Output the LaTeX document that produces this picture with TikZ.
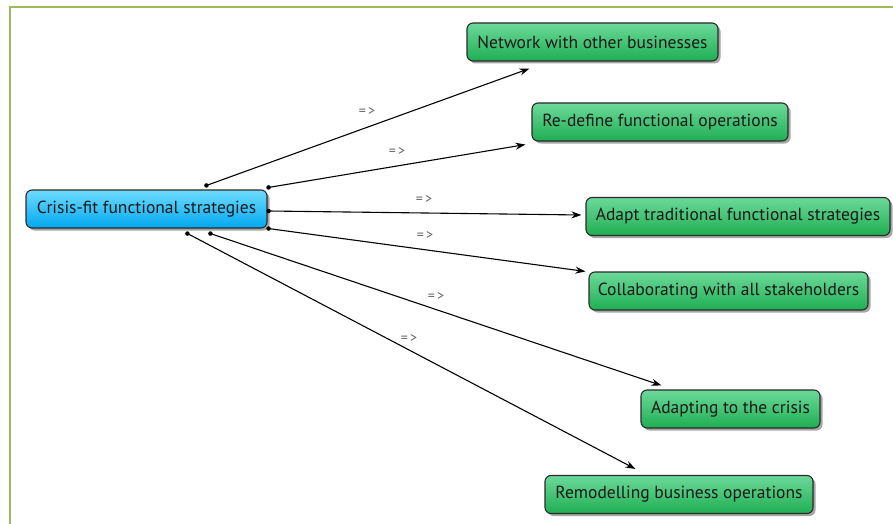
\documentclass[tikz,border=0pt]{standalone}
\usepackage{fontspec}
\setmainfont{PT Sans}
\usetikzlibrary{shadows,calc,arrows.meta}
\definecolor{frameg}{HTML}{9BBB59}
\definecolor{gtop}{HTML}{6CD99A}
\definecolor{gbot}{HTML}{1FAE52}
\definecolor{btop}{HTML}{6FDBFF}
\definecolor{bbot}{HTML}{00A8F0}
\definecolor{edgec}{HTML}{2A2A2A}
\tikzset{
  box/.style={draw=edgec, line width=1.1pt, rounded corners=6pt, minimum height=38pt,
    inner sep=0pt, font=\fontsize{17.5}{20}\selectfont, text=black!90,
    drop shadow={shadow xshift=2.5pt, shadow yshift=-2.5pt, fill=black, opacity=0.35}},
  gbox/.style={box, top color=gtop, bottom color=gbot},
  cbox/.style={box, top color=btop, bottom color=bbot},
  link/.style={line width=1.1pt, black, -{Stealth[length=10pt,width=7pt]}},
  dot/.style={circle, fill=black, inner sep=0pt, minimum size=4.5pt},
  lab/.style={font=\fontsize{14}{16}\selectfont, text=black!60, inner sep=0pt}
}
\begin{document}
\begin{tikzpicture}[x=1pt,y=-1pt]
\useasboundingbox (0,0) rectangle (893,524);
\fill[white] (0,0) rectangle (893,524);
\draw[frameg, line width=2pt] (10,524) -- (10,7.5) -- (893,7.5);

\node[cbox, minimum width=241pt] (c) at (146.5,209) {Crisis-fit functional strategies};
\node[gbox, minimum width=251pt] (n1) at (592.5,42) {Network with other businesses};
\node[gbox, minimum width=256pt] (n2) at (660,122) {Re-define functional operations};
\node[gbox, minimum width=304pt] (n3) at (738,216.5) {Adapt traditional functional strategies};
\node[gbox, minimum width=279pt] (n4) at (728.5,291) {Collaborating with all stakeholders};
\node[gbox, minimum width=179pt] (n5) at (730.5,409) {Adapting to the crisis};
\node[gbox, minimum width=268pt] (n6) at (679,494.5) {Remodelling business operations};

\coordinate (s1) at ($(c.north west)+(181,-4)$);
\coordinate (s2) at ($(c.north east)+(1,-2)$);
\coordinate (s3) at ($(c.east)+(1,2)$);
\coordinate (s4) at ($(c.south east)+(1,0)$);
\coordinate (s5) at ($(c.south west)+(185,5)$);
\coordinate (s6) at ($(c.south west)+(162,5)$);

\coordinate (e1) at ($(n1.south west)+(63,7)$);
\coordinate (e2) at ($(n2.south west)+(-6,3)$);
\coordinate (e3) at ($(n3.west)+(-4,-1.5)$);
\coordinate (e4) at ($(n4.north west)+(-3,0)$);
\coordinate (e5) at ($(n5.north west)+(21,-4)$);
\coordinate (e6) at ($(n6.north west)+(91,-6)$);

\foreach \i in {1,...,6}{
  \draw[link] (s\i) -- (e\i);
  \node[dot] at (s\i) {};
}

\node[lab] at (367,112) {=\,>};
\node[lab] at (397,152) {=\,>};
\node[lab] at (424,200) {=\,>};
\node[lab] at (425,236) {=\,>};
\node[lab] at (436,297) {=\,>};
\node[lab] at (409,339) {=\,>};
\end{tikzpicture}
\end{document}
